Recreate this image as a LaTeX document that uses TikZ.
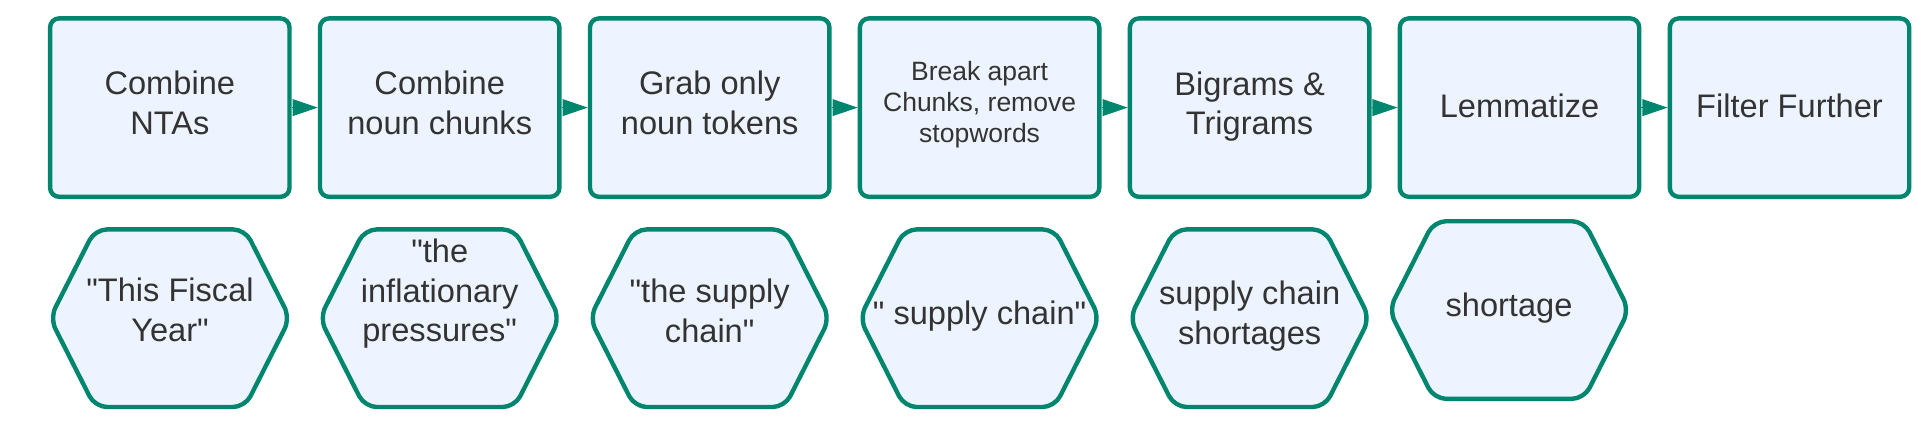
\documentclass[tikz,border=0pt]{standalone}
\usepackage{fontspec}
\setmainfont{Liberation Sans}[Ligatures=TeXOff]
\usetikzlibrary{arrows.meta}
\definecolor{lteal}{HTML}{00866F}
\definecolor{lfill}{HTML}{EDF4FF}
\definecolor{ltext}{HTML}{333333}
\newcommand\hexshape[5]{% name, cx, cy, text center y, text
  \draw[hexline] (#2-120,#3) -- (#2-75,#3-88.8) -- (#2+75,#3-88.8) -- (#2+120,#3) -- (#2+75,#3+88.8) -- (#2-75,#3+88.8) -- cycle;
  \node[hextext] (#1) at (#2,#4) {#5};
}
\begin{document}
\begin{tikzpicture}[x=0.5pt,y=-0.5pt,
  stepbox/.style={draw=lteal, fill=lfill, line width=2.2pt, rounded corners=4.5pt,
    minimum width=119.7pt, minimum height=89.2pt, inner sep=0pt},
  boxtext/.style={align=center, text=ltext, inner sep=0pt,
    font=\fontsize{16.3}{19.75}\selectfont},
  smalltext/.style={boxtext, font=\fontsize{13.25}{15.5}\selectfont},
  hexline/.style={draw=lteal, fill=lfill, line width=2.2pt, rounded corners=6pt, line join=round},
  hextext/.style={align=center, text=ltext, font=\fontsize{16.3}{19.75}\selectfont, inner sep=0pt},
  flow/.style={draw=lteal, line width=0.6pt, -{Triangle[length=12.6pt,width=8.4pt]}}
]
\useasboundingbox (0,0) rectangle (1926,420);
\node[stepbox, label={[boxtext,yshift=2.3pt]center:{Combine\\NTAs}}] (b1) at (169.8,107.6) {};
\node[stepbox, label={[boxtext,yshift=2.3pt]center:{Combine\\noun chunks}}] (b2) at (439.7,107.6) {};
\node[stepbox, label={[boxtext,yshift=2.3pt]center:{Grab only\\noun tokens}}] (b3) at (709.7,107.6) {};
\node[stepbox, label={[smalltext,yshift=1.4pt]center:{Break apart\\Chunks, remove\\stopwords}}] (b4) at (979.6,107.6) {};
\node[stepbox, label={[boxtext,yshift=0.6pt]center:{Bigrams \&\\Trigrams}}] (b5) at (1249.6,107.6) {};
\node[stepbox, label={[boxtext,yshift=0.9pt]center:{Lemmatize}}] (b6) at (1519.5,107.6) {};
\node[stepbox, label={[boxtext,yshift=0.9pt]center:{Filter Further}}] (b7) at (1789.5,107.6) {};
\draw[flow] (b1) -- (b2);
\draw[flow] (b2) -- (b3);
\draw[flow] (b3) -- (b4);
\draw[flow] (b4) -- (b5);
\draw[flow] (b5) -- (b6);
\draw[flow] (b6) -- (b7);
\hexshape{h1}{170}{318.2}{310}{"This Fiscal\\Year"}
\hexshape{h2}{439.7}{318.2}{294}{"the\\inflationary\\pressures"}
\hexshape{h3}{709.7}{318.2}{311}{"the supply\\chain"}
\hexshape{h4}{979.6}{318.2}{316}{" supply chain"}
\hexshape{h5}{1249.6}{318.2}{316}{supply chain\\shortages}
\hexshape{h6}{1509}{310}{308}{shortage}
\end{tikzpicture}
\end{document}
